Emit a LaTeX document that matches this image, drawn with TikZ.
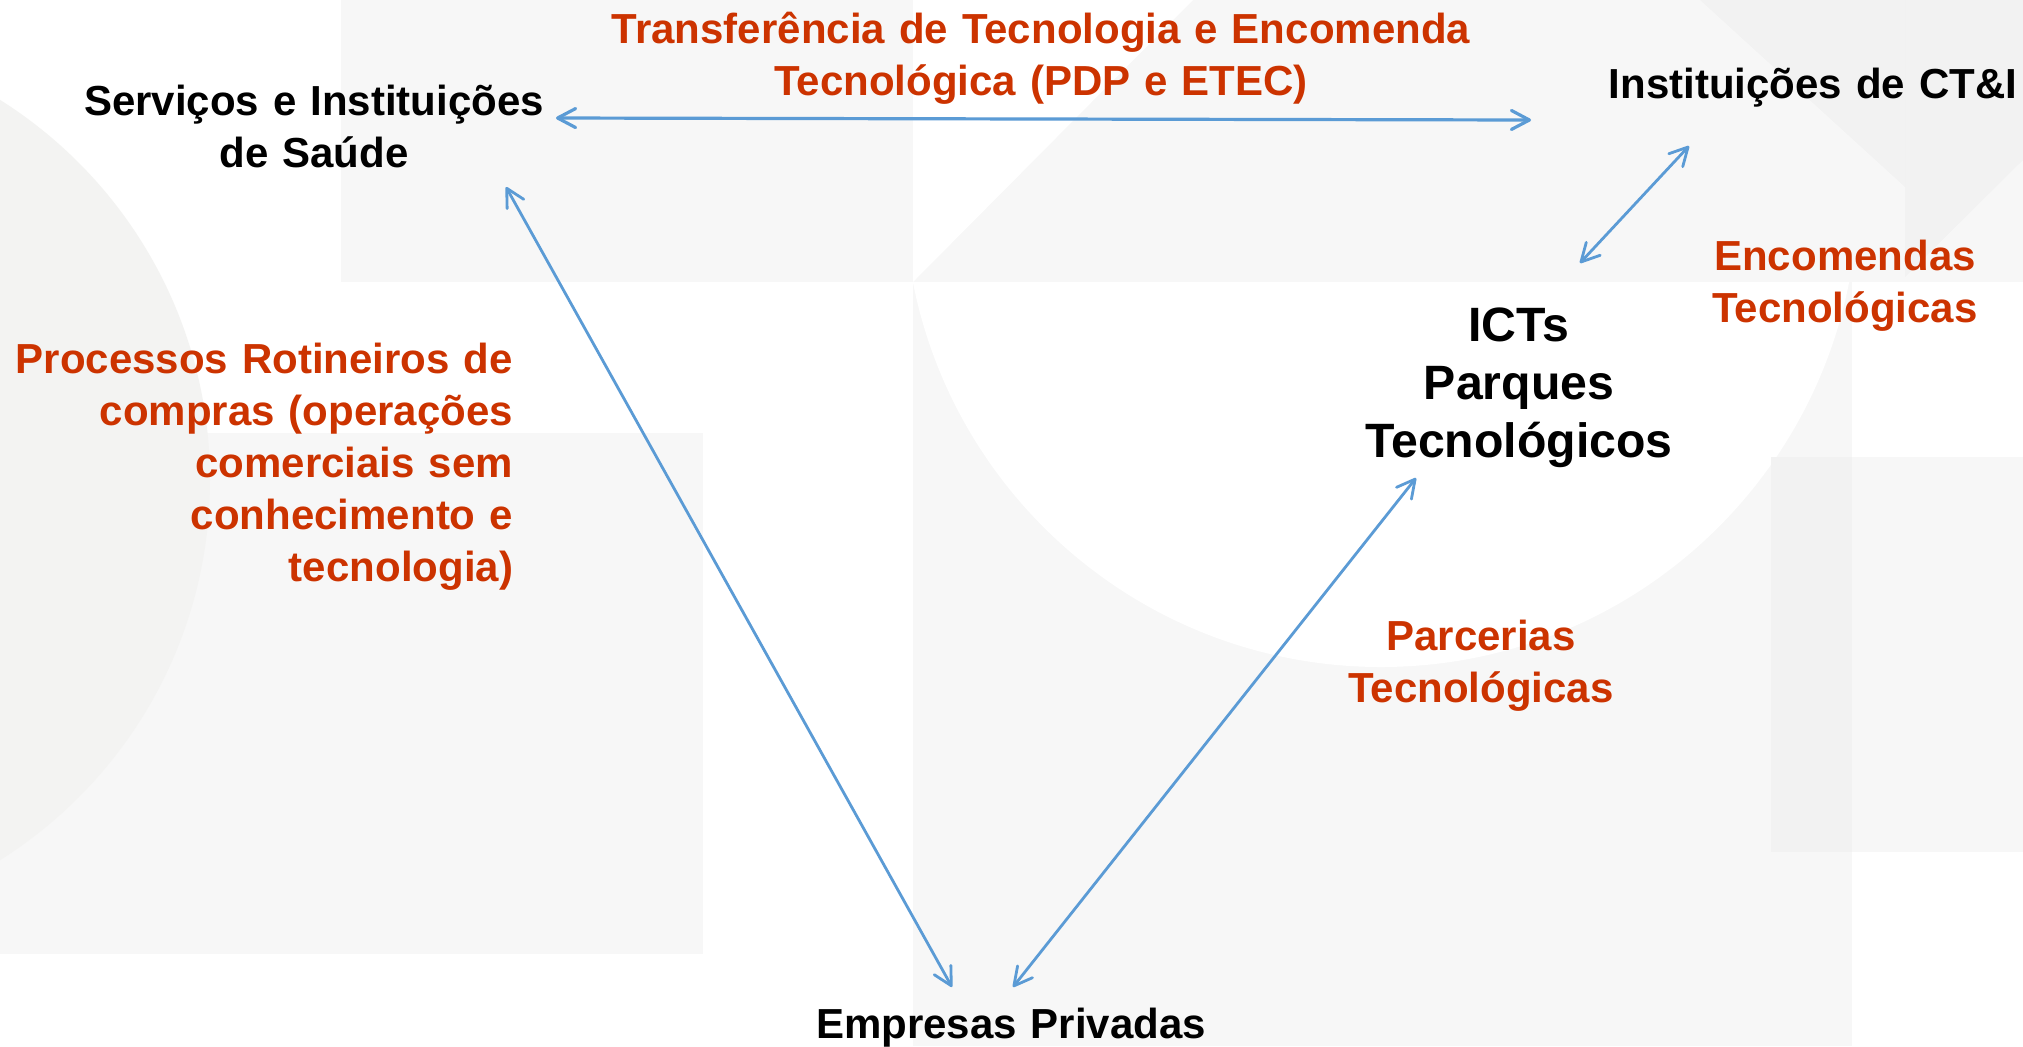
\documentclass[tikz,border=0pt]{standalone}
\usepackage{fontspec}
\setmainfont{Liberation Sans}
\usetikzlibrary{arrows.meta}
\definecolor{accent}{HTML}{CC3300}
\definecolor{linkblue}{HTML}{5B9BD5}
\definecolor{bgA}{HTML}{F7F7F7}
\definecolor{bgB}{HTML}{F3F3F2}
\begin{document}
\begin{tikzpicture}[x=0.5pt,y=-0.5pt,
  lbl/.style={inner sep=0pt, outer sep=0pt, font=\bfseries\fontsize{21pt}{26pt}\selectfont, align=center, anchor=base},
  biglbl/.style={lbl, font=\bfseries\fontsize{24.1pt}{29pt}\selectfont},
  blk/.style={text=black},
  org/.style={text=accent},
  link/.style={draw=linkblue, line width=1.4pt,
    {Straight Barb[length=9pt,width=9.5pt,round]}-{Straight Barb[length=9pt,width=9.5pt,round]}},
  linkthick/.style={link, line width=1.6pt},
  bgshade/.style={fill=bgA, draw=none},
  bgdark/.style={fill=bgB, draw=none},
  bgover/.style={fill=black, fill opacity=0.02, draw=none}
]
\useasboundingbox (0,0) rectangle (2023,1046);
\fill[white] (0,0) rectangle (2023,1046);
\begin{scope}
\clip (0,0) rectangle (2023,1046);
% background shapes
\path[bgshade] (341,0) rectangle (913,282);
\path[bgshade] (0,433) rectangle (703,954);
\path[bgdark] (-239,480) circle[radius=449];
\path[bgshade] (913,0) rectangle (2023,282);
\path[bgshade] (913,282) rectangle (1852,1046);
\path[fill=white] (913,0) -- (913,282) -- (1193,0) -- cycle;
\begin{scope}
  \clip (913,282) rectangle (1852,1046);
  \path[fill=white] (1381,190) circle[radius=477];
\end{scope}
\path[bgover] (1700,0) -- (1905,187) -- (1905,0) -- cycle;
\path[bgover] (1905,0) -- (2023,0) -- (2023,160) -- (1905,277) -- cycle;
\path[bgshade] (1771,457) rectangle (2023,852);
\path[bgover] (1771,457) rectangle (1852,852);
\end{scope}

% main labels
\node[lbl, blk, text width=270pt] (sv) at (314,115) {Serviços e Instituições\\de Saúde};
\node[lbl, blk, text width=240pt] (ct) at (1813,98) {Instituições de CT\&I};
\node[biglbl, blk, text width=190pt] (ict) at (1519,341) {ICTs\\Parques\\Tecnológicos};
\node[lbl, blk, text width=240pt] (emp) at (1011,1038) {Empresas Privadas};

% relation labels
\node[lbl, org, text width=470pt] (tt) at (1041,43) {Transferência de Tecnologia e Encomenda\\Tecnológica (PDP e ETEC)};
\node[lbl, org, text width=170pt] (enc) at (1845,270) {Encomendas\\Tecnológicas};
\node[lbl, org, text width=170pt] (par) at (1481,650) {Parcerias\\Tecnológicas};
\node[lbl, org, text width=280pt, align=right, anchor=base east] (proc) at (513,373) {Processos Rotineiros de\\compras (operações\\comerciais sem\\conhecimento e\\tecnologia)};

% connector ends
\coordinate (sv-r) at (556,118);
\coordinate (ct-l) at (1531,120);
\coordinate (ct-b) at (1689,146);
\coordinate (ict-t) at (1580,263);
\coordinate (sv-b) at (506,187);
\coordinate (emp-l) at (952,987);
\coordinate (ict-b) at (1416,478);
\coordinate (emp-r) at (1013,987);

\draw[linkthick] (sv-r) -- (ct-l);
\draw[link] (ct-b) -- (ict-t);
\draw[link] (sv-b) -- (emp-l);
\draw[link] (ict-b) -- (emp-r);
\end{tikzpicture}
\end{document}
